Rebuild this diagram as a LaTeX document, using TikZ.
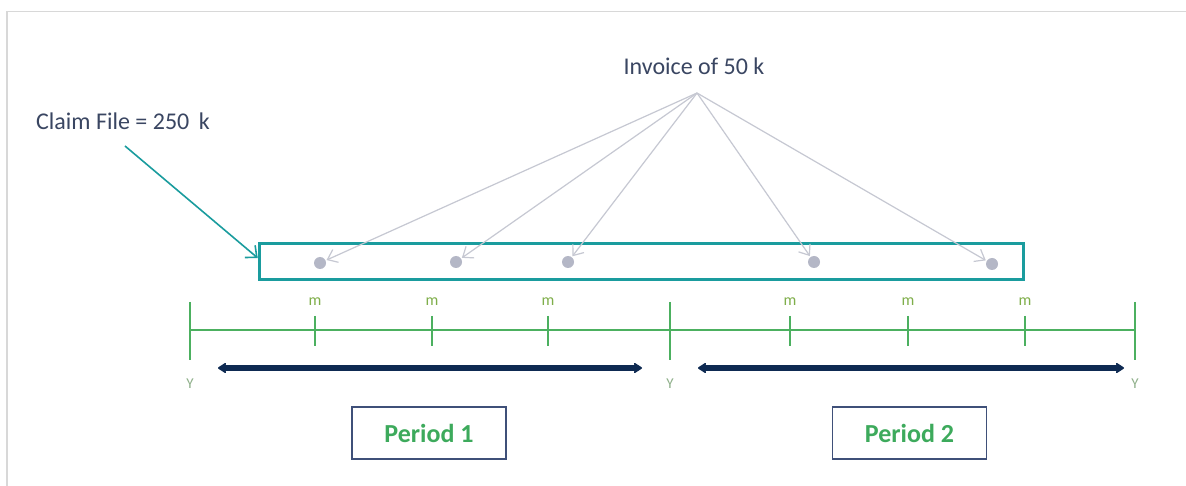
\documentclass[tikz,border=0pt]{standalone}
\usepackage{fontspec}
\setmainfont{Carlito}
\usetikzlibrary{arrows.meta}
\definecolor{teal1}{HTML}{1A9C9E}
\definecolor{tgreen}{HTML}{4CB060}
\definecolor{mgreen}{HTML}{7FAE4A}
\definecolor{ygreen}{HTML}{8FB08A}
\definecolor{navy1}{HTML}{0E2A52}
\definecolor{garrow}{HTML}{C6C8D2}
\definecolor{gdot}{HTML}{B4B7C6}
\definecolor{txt}{HTML}{3A4662}
\definecolor{pbox}{HTML}{3F5079}
\definecolor{pgreen}{HTML}{3DAA5C}
\definecolor{frame1}{HTML}{D8D8D8}
\tikzset{
  lbl/.style={text=txt, font=\fontsize{24}{28}\selectfont, inner sep=0pt},
  dotn/.style={circle, fill=gdot, minimum size=12pt, inner sep=0pt},
  inv/.style={draw=garrow, line width=1.2pt, -{Straight Barb[length=9pt,width=14pt]}, shorten >=1pt},
  tl/.style={draw=tgreen, line width=2pt},
  mlab/.style={text=mgreen, font=\fontsize{16}{18}\selectfont, inner sep=0pt},
  ylab/.style={text=ygreen, font=\fontsize{15}{18}\selectfont, inner sep=0pt},
  period/.style={arrows={Stealth[length=10pt,width=13pt,round]-Stealth[length=10pt,width=13pt,round]}, draw=navy1, line width=6.5pt},
  pnode/.style={draw=pbox, line width=1.5pt, minimum width=154pt, minimum height=52pt, text=pgreen, font=\bfseries\fontsize{26}{30}\selectfont},
}
\begin{document}
\begin{tikzpicture}[x=1pt,y=-1pt]
\useasboundingbox (0,0) rectangle (1186,486);
\fill[white] (0,0) rectangle (1186,486);
% frame
\draw[frame1, line width=1.2pt] (7,486) -- (7,11.5) -- (1186,11.5);

% labels
\node[lbl, anchor=west] (claim) at (36,121) {Claim File = 250 \,k};
\node[lbl] (inv) at (694,66) {Invoice of 50 k};
\coordinate (apex) at (697,93);
\coordinate (cstart) at (125,146);

% teal claim box
\node[draw=teal1, line width=3.5pt, minimum width=764pt, minimum height=36pt, inner sep=0pt] (box) at (641.5,261.5) {};

% dots
\node[dotn] (d1) at (320,263) {};
\node[dotn] (d2) at (456,262) {};
\node[dotn] (d3) at (568,262) {};
\node[dotn] (d4) at (814,262) {};
\node[dotn] (d5) at (992,264) {};

% invoice arrows
\foreach \d in {d1,d2,d3,d4,d5} \draw[inv] (apex) -- (\d);

% claim arrow
\draw[draw=teal1, line width=1.6pt, -{Straight Barb[length=9pt,width=16pt]}] (cstart) -- (box.west |- 0,258);

% timeline
\coordinate (t0) at (190,330);
\coordinate (t1) at (1135,330);
\draw[tl] (t0) -- (t1);
\foreach \x/\n in {190/Y1,670/Y2,1135/Y3} {
  \draw[tl] (\x,302) -- (\x,360);
  \node[ylab] (\n) at (\x,384) {Y};
}
\foreach \x/\n in {315/m1,432/m2,548/m3,790/m4,908/m5,1025/m6} {
  \draw[tl] (\x,316) -- (\x,346);
  \node[mlab] (\n) at (\x,302) {m};
}

% period arrows
\coordinate (p1a) at (218,368);
\coordinate (p1b) at (642,368);
\coordinate (p2a) at (698,368);
\coordinate (p2b) at (1124,368);
\draw[period] (p1a) -- (p1b);
\draw[period] (p2a) -- (p2b);

% period boxes
\node[pnode] (P1) at (429,433) {Period 1};
\node[pnode] (P2) at (909.5,433) {Period 2};
\end{tikzpicture}
\end{document}
